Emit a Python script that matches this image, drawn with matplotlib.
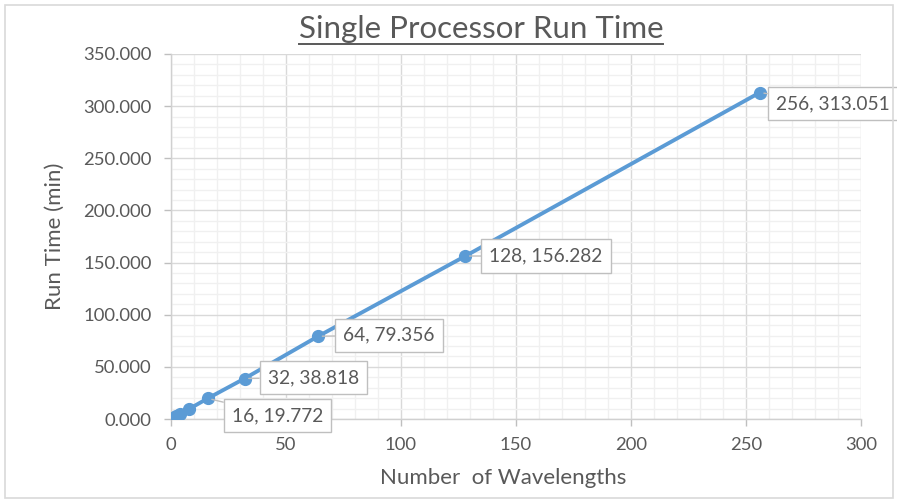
import matplotlib
matplotlib.use("Agg")
import matplotlib.pyplot as plt
from matplotlib.ticker import MultipleLocator, FormatStrFormatter
from matplotlib.patches import Rectangle
from matplotlib.lines import Line2D

plt.rcParams['font.family'] = ['Lato', 'DejaVu Sans']

wavelengths = [1, 2, 4, 8, 16, 32, 64, 128, 256]
run_time = [1.2, 2.45, 4.9, 9.8, 19.772, 38.818, 79.356, 156.282, 313.051]
labeled = [16, 32, 64, 128, 256]
label_offsets = {16: (24, -17), 32: (23, 1), 64: (25, 1), 128: (24, 0), 256: (16, -11)}

title = "Single Processor Run Time"
x_label = "Number  of Wavelengths"
y_label = "Run Time (min)"

text_c = "#595959"
blue = "#5B9BD5"
W, H = 897, 501

fig = plt.figure(figsize=(W / 100, H / 100), dpi=100)
fig.patch.set_facecolor("white")
fig.patches.append(Rectangle((5 / W, 3 / H), 888 / W, 493 / H,
                             transform=fig.transFigure, fill=False,
                             edgecolor="#d9d9d9", linewidth=1.2))

ax = fig.add_axes([171 / W, 1 - 419 / H, 690 / W, 365 / H])
ax.set_xlim(0, 300)
ax.set_ylim(0, 350)
ax.xaxis.set_major_locator(MultipleLocator(50))
ax.xaxis.set_minor_locator(MultipleLocator(10))
ax.yaxis.set_major_locator(MultipleLocator(50))
ax.yaxis.set_minor_locator(MultipleLocator(10))
ax.yaxis.set_major_formatter(FormatStrFormatter("%.3f"))

ax.grid(which="minor", color="#f0f0f0", linewidth=1.0)
ax.grid(which="major", color="#d9d9d9", linewidth=1.0)
ax.set_axisbelow(True)
for side in ("top", "right"):
    ax.spines[side].set_visible(False)
for side in ("left", "bottom"):
    ax.spines[side].set_color("#d0d0d0")
    ax.spines[side].set_linewidth(1.0)

ax.tick_params(which="major", length=5, width=1, color="#bfbfbf",
               labelcolor=text_c, labelsize=13.3)
ax.tick_params(axis="y", pad=9)
ax.tick_params(axis="x", pad=8)
ax.tick_params(which="minor", length=0)

ax.plot(wavelengths, run_time, color=blue, linewidth=2.8, marker="o",
        markersize=8.5, markerfacecolor=blue, markeredgecolor=blue, zorder=3)

for x, y in zip(wavelengths, run_time):
    if x in labeled:
        dx, dy = label_offsets[x]
        ax.annotate(f"{x}, {y:.3f}", xy=(x, y), xytext=(dx, dy),
                    textcoords="offset pixels", ha="left", va="center",
                    fontsize=13.8, color=text_c, zorder=4,
                    bbox=dict(boxstyle="square,pad=0.42", facecolor="white",
                              edgecolor="#bfbfbf", linewidth=1.0),
                    arrowprops=dict(arrowstyle="-", color="#bfbfbf",
                                    linewidth=1.0, shrinkA=0, shrinkB=3))

fig.text(503 / W, 1 - 484 / H, x_label, ha="center", va="baseline",
         fontsize=16, color=text_c)
fig.text(55 / W, 1 - 236 / H, y_label, ha="center", va="center",
         rotation=90, fontsize=16, color=text_c)

t = fig.text(481 / W, 1 - 38 / H, title, ha="center", va="baseline",
             fontsize=22.5, color=text_c)
fig.canvas.draw()
bb = t.get_window_extent()
inv = fig.transFigure.inverted()
(x0, _), (x1, _) = inv.transform([(bb.x0, bb.y0), (bb.x1, bb.y1)])
uy = 1 - 44 / H
fig.lines.append(Line2D([x0, x1], [uy, uy], transform=fig.transFigure,
                        color=text_c, linewidth=1.4))

fig.savefig("out.png", dpi=100, facecolor="white")
